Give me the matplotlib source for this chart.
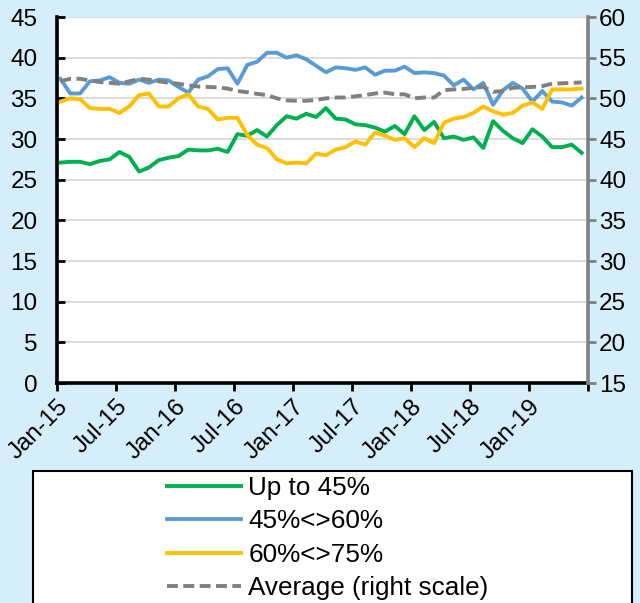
import matplotlib.pyplot as plt
from matplotlib.patches import Rectangle
import numpy as np

# Monthly observations, Jan-15 .. Jun-19
up_to_45 = [27.1, 27.2, 27.2, 26.9, 27.3, 27.5, 28.4, 27.8, 26.0, 26.5,
            27.4, 27.7, 27.9, 28.7, 28.6, 28.6, 28.8, 28.4, 30.6, 30.4,
            31.1, 30.3, 31.7, 32.8, 32.5, 33.1, 32.7, 33.8, 32.5, 32.4,
            31.8, 31.7, 31.4, 30.9, 31.6, 30.6, 32.8, 31.1, 32.1, 30.1,
            30.3, 29.9, 30.2, 28.9, 32.2, 31.0, 30.1, 29.5, 31.2, 30.3,
            29.0, 29.0, 29.3, 28.3]
from_45_to_60 = [37.4, 35.6, 35.6, 37.1, 37.2, 37.6, 36.9, 36.8, 37.3, 36.9,
                 37.3, 37.2, 36.4, 35.7, 37.3, 37.7, 38.6, 38.7, 36.8, 39.1,
                 39.5, 40.6, 40.6, 40.0, 40.3, 39.8, 39.0, 38.2, 38.8, 38.7,
                 38.5, 38.8, 37.9, 38.4, 38.4, 38.9, 38.1, 38.2, 38.1, 37.8,
                 36.6, 37.3, 36.1, 36.9, 34.2, 36.0, 36.9, 36.2, 34.6, 35.9,
                 34.6, 34.5, 34.1, 35.1]
from_60_to_75 = [34.6, 35.0, 34.9, 33.8, 33.7, 33.7, 33.2, 34.0, 35.4, 35.6,
                 34.0, 34.0, 35.0, 35.5, 34.0, 33.7, 32.4, 32.6, 32.6, 30.5,
                 29.3, 28.9, 27.5, 27.0, 27.1, 27.0, 28.2, 28.0, 28.7, 29.0,
                 29.7, 29.3, 30.8, 30.4, 29.9, 30.1, 29.0, 30.1, 29.5, 32.0,
                 32.5, 32.7, 33.2, 34.0, 33.4, 33.0, 33.2, 34.1, 34.5, 33.7,
                 36.1, 36.1, 36.1, 36.2]
average = [52.1, 52.4, 52.4, 52.2, 52.0, 51.9, 51.8, 52.1, 52.4, 52.3,
           52.1, 51.9, 51.8, 51.6, 51.45, 51.4, 51.35, 51.2, 50.9, 50.75,
           50.55, 50.4, 50.0, 49.75, 49.7, 49.7, 49.8, 50.0, 50.1, 50.1,
           50.25, 50.4, 50.6, 50.7, 50.5, 50.5, 50.0, 50.1, 50.1, 51.0,
           51.1, 51.15, 51.3, 51.4, 50.8, 50.9, 51.3, 51.35, 51.4, 51.5,
           51.8, 51.85, 51.9, 51.95]
tick_labels = ["Jan-15", "Jul-15", "Jan-16", "Jul-16", "Jan-17", "Jul-17",
               "Jan-18", "Jul-18", "Jan-19", ""]

BG = "#D5EEFA"
FS = 17.5

plt.rcParams["font.family"] = ["Liberation Sans", "DejaVu Sans"]

fig = plt.figure(figsize=(6.4, 6.03), dpi=100, facecolor=BG)
ax = fig.add_axes([57 / 640, 1 - 383 / 603, 531 / 640, 366 / 603])
ax.set_facecolor("white")
ax2 = ax.twinx()

x = np.arange(len(up_to_45))
lw = 2.8
ax.plot(x, up_to_45, color="#00B050", lw=lw, label="Up to 45%")
ax.plot(x, from_45_to_60, color="#5B9BD5", lw=lw, label="45%<>60%")
ax.plot(x, from_60_to_75, color="#FFC000", lw=lw, label="60%<>75%")
ax2.plot(x, average, color="#808080", lw=lw, dashes=(2.8, 1.4),
         label="Average (right scale)")

# axes ranges and ticks
x0 = -0.35
ax.set_xlim(x0, x0 + 54)
ax.set_xticks([x0 + 6 * k for k in range(len(tick_labels))])
ax.set_xticklabels(tick_labels, rotation=45, ha="right", va="top",
                   rotation_mode="anchor", fontsize=FS)
ax.set_ylim(0, 45)
ax.set_yticks(np.arange(0, 46, 5))
ax2.set_ylim(15, 60)
ax2.set_yticks(np.arange(15, 61, 5))

ax.grid(axis="y", color="#D9D9D9", lw=1.3)
ax.set_axisbelow(True)

ax.tick_params(axis="y", direction="in", length=6, width=2, colors="black",
               labelsize=FS, pad=14)
ax.tick_params(axis="x", direction="out", length=6, width=2, colors="black",
               labelsize=FS, pad=3)
ax2.tick_params(axis="y", direction="out", length=6, width=2, color="#808080",
                labelcolor="black", labelsize=FS, pad=2)

for s in ["top", "right"]:
    ax.spines[s].set_visible(False)
for s in ["top", "left", "bottom"]:
    ax2.spines[s].set_visible(False)
ax.spines["left"].set_linewidth(2.6)
ax.spines["bottom"].set_linewidth(2.6)
ax2.spines["right"].set_linewidth(2.6)
ax2.spines["right"].set_color("#808080")

# legend box
fig.patches.append(Rectangle((33 / 640, -0.02), 599 / 640, 0.02 + 1 - 471 / 603,
                             transform=fig.transFigure, facecolor="white",
                             edgecolor="black", lw=1.5))
h1, l1 = ax.get_legend_handles_labels()
h2, l2 = ax2.get_legend_handles_labels()
fig.legend(h1 + h2, l1 + l2, loc="center", bbox_to_anchor=(328 / 640, 1 - 538 / 603),
           frameon=False, fontsize=18.8, handlelength=2.8, handletextpad=0.3,
           labelspacing=0.36)

fig.savefig("out.png", dpi=100, facecolor=BG)
